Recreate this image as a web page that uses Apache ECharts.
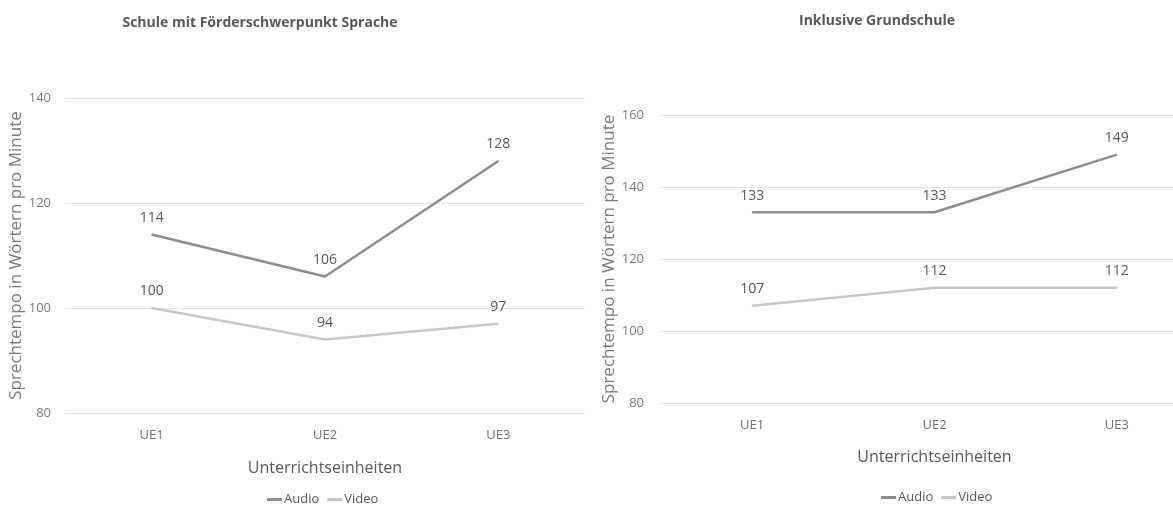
<!DOCTYPE html>
<html>
<head>
<meta charset="utf-8">
<script src="https://cdn.jsdelivr.net/npm/echarts@6/dist/echarts.min.js"></script>
<style>
  html, body { margin: 0; padding: 0; background: #ffffff; }
  #chart { width: 1173px; height: 506px; }
</style>
</head>
<body>
<div id="chart"></div>
<script>
// Lesson units on the x axis (shared by both panels)
const categories = ['UE1', 'UE2', 'UE3'];

// Panel 1: Schule mit Förderschwerpunkt Sprache
const sfsAudio = [114, 106, 128];
const sfsVideo = [100, 94, 97];

// Panel 2: Inklusive Grundschule
const igsAudio = [133, 133, 149];
const igsVideo = [107, 112, 112];

const titles = ['Schule mit Förderschwerpunkt Sprache', 'Inklusive Grundschule'];
const yAxisName = 'Sprechtempo in Wörtern pro Minute';
const xAxisName = 'Unterrichtseinheiten';

const FONT = '"Open Sans", "Noto Sans", sans-serif';
const TEXT = '#595959';
const AUDIO_COLOR = '#8e8e8e';
const VIDEO_COLOR = '#c8c8c8';

function lineSeries(name, data, color, axisIndex) {
  return {
    name: name,
    type: 'line',
    data: data,
    xAxisIndex: axisIndex,
    yAxisIndex: axisIndex,
    // tiny markers so the value labels are drawn
    symbol: 'circle',
    symbolSize: 1,
    showSymbol: true,
    lineStyle: { color: color, width: 2.5 },
    itemStyle: { color: color },
    label: {
      show: true,
      position: 'top',
      distance: 9,
      color: TEXT,
      fontFamily: FONT,
      fontSize: 14
    },
    z: name === 'Audio' ? 3 : 2
  };
}

function xAxis(gridIndex, nameGap) {
  return {
    type: 'category',
    gridIndex: gridIndex,
    data: categories,
    boundaryGap: true,
    axisLine: { show: false },
    axisTick: { show: false },
    axisLabel: { color: '#6f6f6f', fontFamily: FONT, fontSize: 13, margin: 16 },
    name: xAxisName,
    nameLocation: 'middle',
    nameGap: nameGap,
    nameTextStyle: { color: TEXT, fontFamily: FONT, fontSize: 16 }
  };
}

function yAxis(gridIndex, min, max, nameGap, margin, shift) {
  return {
    type: 'value',
    gridIndex: gridIndex,
    min: min,
    max: max,
    interval: 20,
    axisLine: { show: false },
    axisTick: { show: false },
    axisLabel: { color: '#7a7a7a', fontFamily: FONT, fontSize: 13, margin: margin },
    splitLine: { lineStyle: { color: '#e3e3e3', width: 1.2 } },
    name: yAxisName,
    nameLocation: 'middle',
    nameRotate: 90,
    nameGap: nameGap,
    nameTextStyle: {
      color: '#7a7a7a', fontFamily: FONT, fontSize: 17,
      padding: [0, 0, 0, shift]
    }
  };
}

const legendBase = {
  data: ['Audio', 'Video'],
  icon: 'rect',
  itemWidth: 15,
  itemHeight: 3,
  itemGap: 8,
  textStyle: { color: TEXT, fontFamily: FONT, fontSize: 13, padding: [0, 0, 0, -3] }
};

const chart = echarts.init(document.getElementById('chart'), null, { renderer: 'canvas' });

chart.setOption({
  backgroundColor: '#ffffff',
  animation: false,
  title: [
    {
      text: titles[0],
      left: 255, top: 11, textAlign: 'center',
      textStyle: { color: TEXT, fontFamily: FONT, fontSize: 14, fontWeight: 'bold' }
    },
    {
      text: titles[1],
      left: 872, top: 9, textAlign: 'center',
      textStyle: { color: TEXT, fontFamily: FONT, fontSize: 14, fontWeight: 'bold' }
    }
  ],
  legend: [
    Object.assign({}, legendBase, { left: 262, top: 488 }),
    Object.assign({}, legendBase, { left: 876, top: 486 })
  ],
  grid: [
    { left: 65, top: 98, width: 520, height: 315, outerBoundsMode: 'none' },
    { left: 661, top: 115, width: 547, height: 288, outerBoundsMode: 'none' }
  ],
  xAxis: [xAxis(0, 47), xAxis(1, 46)],
  yAxis: [yAxis(0, 80, 140, 36, 14, 0), yAxis(1, 80, 160, 38, 17, 0)],
  series: [
    lineSeries('Audio', sfsAudio, AUDIO_COLOR, 0),
    lineSeries('Video', sfsVideo, VIDEO_COLOR, 0),
    lineSeries('Audio', igsAudio, AUDIO_COLOR, 1),
    lineSeries('Video', igsVideo, VIDEO_COLOR, 1)
  ]
});
</script>
</body>
</html>
